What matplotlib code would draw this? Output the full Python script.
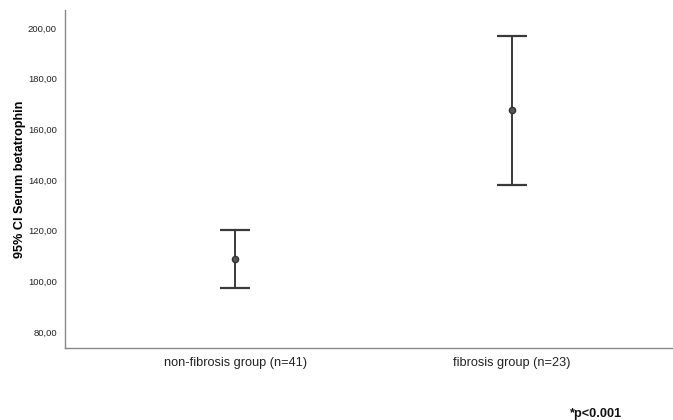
import matplotlib
matplotlib.use("Agg")
import matplotlib.pyplot as plt

plt.rcParams["font.family"] = ["Liberation Sans", "DejaVu Sans"]

# ---- Data ----
groups = ["non-fibrosis group (n=41)", "fibrosis group (n=23)"]
means = [108.8, 167.5]
ci_low = [97.6, 138.0]
ci_high = [120.3, 196.8]
yticks = [80, 100, 120, 140, 160, 180, 200]

fig = plt.figure(figsize=(6.73, 4.2), dpi=100)
ax = fig.add_axes([0.097, 0.171, 0.903, 0.805])

xs = list(range(len(groups)))
err_lo = [m - l for m, l in zip(means, ci_low)]
err_hi = [h - m for m, h in zip(means, ci_high)]
ax.errorbar(xs, means, yerr=[err_lo, err_hi], fmt="o", color="#3a3a3a",
            ecolor="#3a3a3a", elinewidth=1.4, capsize=11, capthick=1.6,
            markersize=4.5, markeredgecolor="#333333", markerfacecolor="#555555")

ax.set_xlim(-0.614, 1.581)
ax.set_ylim(73.7, 207.0)
ax.set_xticks(xs)
ax.set_xticklabels(groups, fontsize=9.2, color="#222222")
ax.set_yticks(yticks)
ax.set_yticklabels([f"{v:.2f}".replace(".", ",") for v in yticks], fontsize=6.8,
                   color="#222222")
ax.tick_params(length=0, pad=6)
ax.tick_params(axis="y", pad=6)

for side in ("top", "right"):
    ax.spines[side].set_visible(False)
for side in ("left", "bottom"):
    ax.spines[side].set_color("#888888")
    ax.spines[side].set_linewidth(1.0)

ax.set_ylabel("95% CI Serum betatrophin", fontsize=9.1, fontweight="bold",
              labelpad=1.5)

fig.text(0.847, 0.008, "*p<0.001", fontsize=9.2, fontweight="bold", color="#111111")

fig.savefig("out.png", dpi=100)
